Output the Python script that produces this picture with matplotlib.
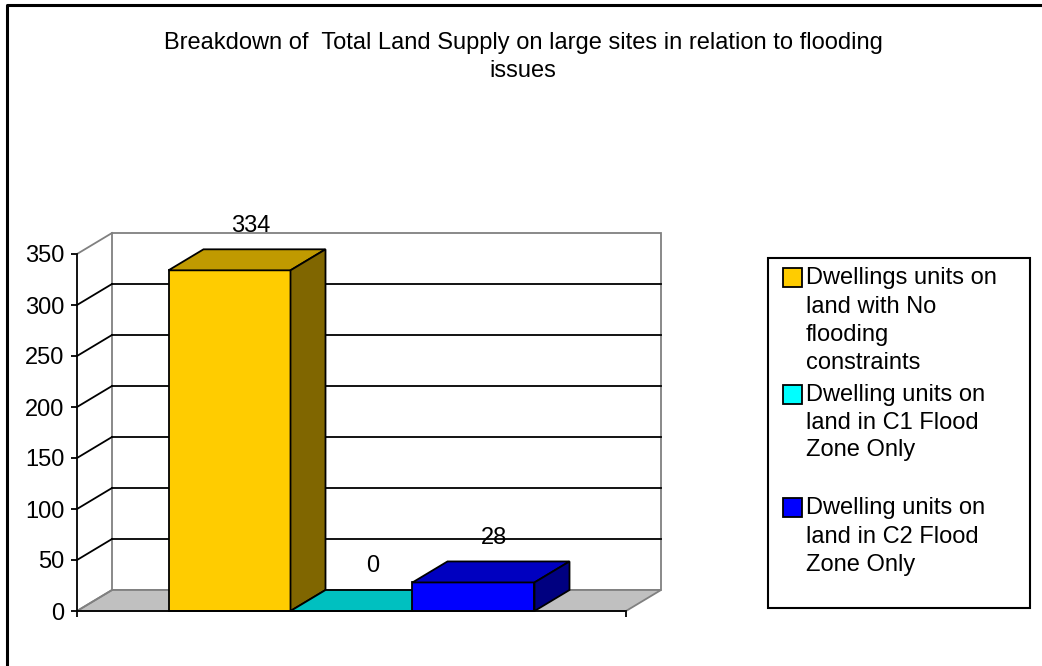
import matplotlib
matplotlib.use("Agg")
import matplotlib.pyplot as plt
from matplotlib.patches import Polygon, Rectangle
from matplotlib.lines import Line2D

plt.rcParams["font.family"] = ["Liberation Sans", "DejaVu Sans"]

# data
categories = [
    "Dwellings units on\nland with No\nflooding\nconstraints",
    "Dwelling units on\nland in C1 Flood\nZone Only",
    "Dwelling units on\nland in C2 Flood\nZone Only",
]
values = [334, 0, 28]
front_colors = ["#FFCC00", "#00FFFF", "#0000FF"]
top_colors = ["#C09A00", "#00C0C0", "#0000C0"]
side_colors = ["#806600", "#008080", "#000080"]
yticks = [0, 50, 100, 150, 200, 250, 300, 350]
title = "Breakdown of  Total Land Supply on large sites in relation to flooding\nissues"

FS = 17
W, H = 1042, 666
fig = plt.figure(figsize=(W / 100, H / 100), dpi=100)
ax = fig.add_axes([0, 0, 1, 1])

# scale: pixels per data unit
PXX = 549 / 4.5
PXY = 357 / 350
X0, Y0 = 77, 55
ax.set_xlim(-X0 / PXX, (W - X0) / PXX)
ax.set_ylim(-Y0 / PXY, (H - Y0) / PXY)

GAP = 0.75
XMAX = 2 * GAP + len(values)
YMAX = 350
DX = 35 / PXX
DY = 21 / PXY

# back wall + floor
ax.add_patch(Polygon([(DX, DY), (XMAX + DX, DY), (XMAX + DX, YMAX + DY), (DX, YMAX + DY)],
                     closed=True, facecolor="white", edgecolor="#808080", lw=1.3, zorder=1))
ax.add_patch(Polygon([(0, 0), (XMAX, 0), (XMAX + DX, DY), (DX, DY)],
                     closed=True, facecolor="#C0C0C0", edgecolor="#808080", lw=1.3, zorder=2))

# gridlines on left and back walls
for v in yticks:
    c = "#808080" if v in (0, YMAX) else "black"
    ax.plot([0, DX], [v, v + DY], color=c, lw=1.3, zorder=2)
    if 0 < v < YMAX:
        ax.plot([DX, XMAX + DX], [v + DY, v + DY], color="black", lw=1.3, zorder=2)

# bars
for i, v in enumerate(values):
    x0 = GAP + i
    z = 5 + i
    ax.bar(x0, v, width=1, align="edge", color=front_colors[i], edgecolor="black", lw=1.3, zorder=z)
    ax.add_patch(Polygon([(x0, v), (x0 + 1, v), (x0 + 1 + DX, v + DY), (x0 + DX, v + DY)],
                         closed=True, facecolor=top_colors[i], edgecolor="black", lw=1.3, zorder=z))
    ax.add_patch(Polygon([(x0 + 1, 0), (x0 + 1, v), (x0 + 1 + DX, v + DY), (x0 + 1 + DX, DY)],
                         closed=True, facecolor=side_colors[i], edgecolor="black", lw=1.3, zorder=z))
    ax.annotate(str(v), (x0 + 0.5 + DX * 0.6, v + DY), xytext=(0, 9), textcoords="offset points",
                ha="center", va="bottom", fontsize=FS, zorder=10)

# axes
for s in ["top", "right"]:
    ax.spines[s].set_visible(False)
ax.spines["left"].set_position(("data", 0))
ax.spines["left"].set_bounds(0, YMAX)
ax.spines["bottom"].set_position(("data", 0))
ax.spines["bottom"].set_bounds(0, XMAX)
for s in ["left", "bottom"]:
    ax.spines[s].set_linewidth(1.3)
    ax.spines[s].set_zorder(12)
ax.set_yticks(yticks)
ax.set_xticks([0, XMAX])
ax.set_xticklabels([])
ax.tick_params(axis="y", direction="out", length=4, width=1.3, pad=5, labelsize=FS)
ax.tick_params(axis="x", direction="out", length=4, width=1.3)
ax.patch.set_visible(False)

# title
fig.text(523 / W, 1 - 57 / H, title, ha="center", va="center", fontsize=FS, linespacing=1.4)

# legend
fig.add_artist(Rectangle((768 / W, 1 - 608 / H), (1030 - 768) / W, (608 - 258) / H,
                         transform=fig.transFigure, facecolor="white", edgecolor="black", lw=1.5))
line_rows = [[278, 307, 335, 363], [395, 423, 450], [508, 537, 565]]
for i, lab in enumerate(categories):
    rows = line_rows[i]
    fig.add_artist(Rectangle((783 / W, 1 - (rows[0] + 9) / H), 19 / W, 19 / H,
                             transform=fig.transFigure, facecolor=front_colors[i],
                             edgecolor="black", lw=1.3))
    for txt, y in zip(lab.split("\n"), rows):
        fig.text(806 / W, 1 - y / H, txt, ha="left", va="center", fontsize=FS)

# outer border
fig.add_artist(Line2D([7 / W, 7 / W, 1], [0, 1 - 5 / H, 1 - 5 / H], transform=fig.transFigure,
                      color="black", lw=2.2))

fig.savefig("out.png", dpi=100)
